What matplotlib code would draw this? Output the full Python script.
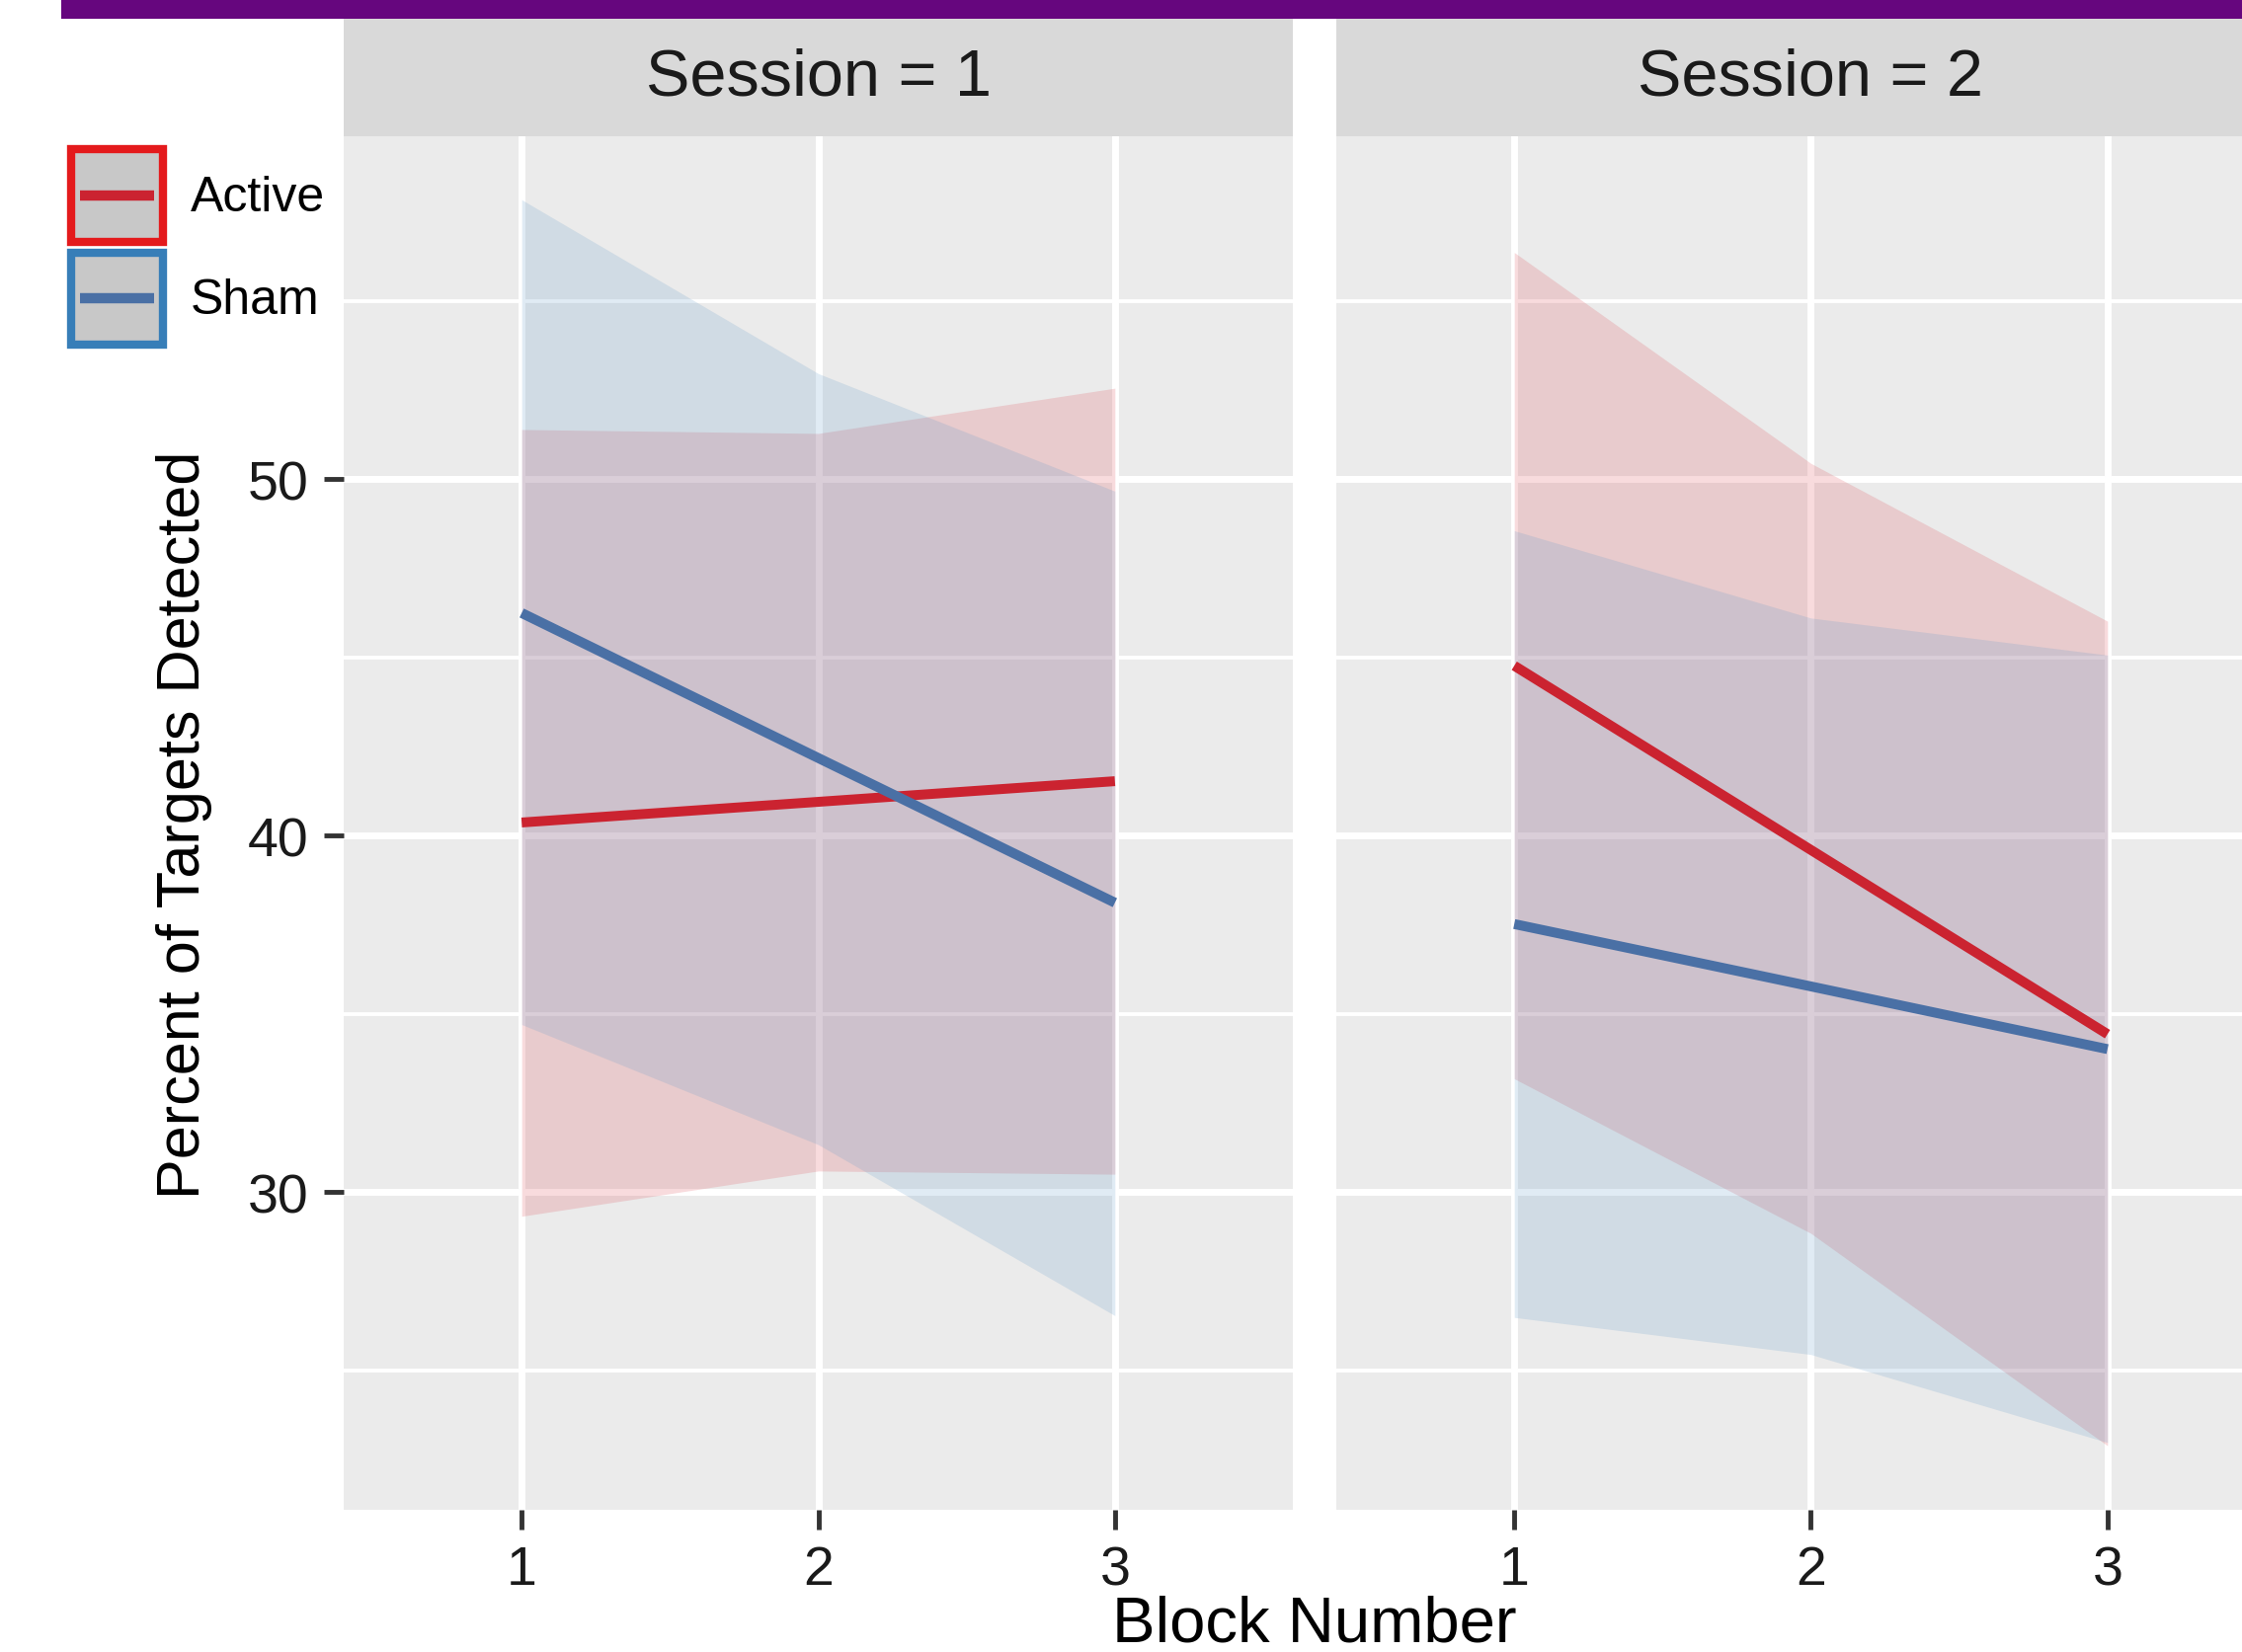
import matplotlib.pyplot as plt
from matplotlib.patches import Patch, Rectangle
from matplotlib.lines import Line2D

plt.rcParams['font.family'] = ['Liberation Sans', 'DejaVu Sans']

# data
blocks = [1, 2, 3]
session_titles = ['Session = 1', 'Session = 2']
groups = ['Active', 'Sham']

# Session 1
active_s1 = [40.37, 40.95, 41.53]
active_s1_lo = [29.32, 30.59, 30.50]
active_s1_hi = [51.40, 51.29, 52.56]
sham_s1 = [46.25, 42.18, 38.12]
sham_s1_lo = [34.70, 31.33, 26.53]
sham_s1_hi = [57.85, 52.97, 49.67]

# Session 2
active_s2 = [44.77, 39.60, 34.43]
active_s2_lo = [33.18, 28.84, 22.88]
active_s2_hi = [56.37, 50.45, 46.02]
sham_s2 = [37.52, 35.77, 34.01]
sham_s2_lo = [26.48, 25.44, 22.97]
sham_s2_hi = [48.56, 46.11, 45.07]

panels = [
    {'Active': (active_s1, active_s1_lo, active_s1_hi), 'Sham': (sham_s1, sham_s1_lo, sham_s1_hi)},
    {'Active': (active_s2, active_s2_lo, active_s2_hi), 'Sham': (sham_s2, sham_s2_lo, sham_s2_hi)},
]

line_colors = {'Active': '#CB2330', 'Sham': '#4A70A5'}
ribbon_colors = {'Active': '#DC4B55', 'Sham': '#649BC8'}
border_colors = {'Active': '#E41A1C', 'Sham': '#377EB8'}


class KeyHandler:
    """ggplot-like legend key: grey box with coloured border and a line across."""
    def legend_artist(self, legend, orig_handle, fontsize, handlebox):
        x0, y0 = -handlebox.xdescent, -handlebox.ydescent
        w, h = handlebox.width, handlebox.height
        edge = orig_handle.get_edgecolor()
        rect = Rectangle((x0, y0), w, h, facecolor='#C8C8C8', edgecolor=edge, lw=6,
                         transform=handlebox.get_transform())
        inset = 0.1 * w
        line = Line2D([x0 + inset, x0 + w - inset], [y0 + h / 2] * 2,
                      color=orig_handle.get_facecolor(), lw=7.5, solid_capstyle='butt',
                      transform=handlebox.get_transform())
        handlebox.add_artist(rect)
        handlebox.add_artist(line)
        return rect


W, H = 2270, 1674
fig = plt.figure(figsize=(W / 100, H / 100), dpi=100)
fig.patch.set_facecolor('white')

# purple banner along the top
fig.patches.append(Rectangle((62 / W, 1 - 20 / H), 1.0, 20 / H, transform=fig.transFigure,
                             facecolor='#66067E', edgecolor='none', zorder=5))

ax_w = 961 / W
ax_b = 1 - 1530 / H
ax_h = (1530 - 139) / H
lefts = [348 / W, 1353 / W]

for i, (left, data, title) in enumerate(zip(lefts, panels, session_titles)):
    ax = fig.add_axes([left, ax_b, ax_w, ax_h])
    ax.set_facecolor('#EBEBEB')
    for s in ax.spines.values():
        s.set_visible(False)
    ax.set_axisbelow(True)
    ax.set_xlim(0.4, 3.6)
    ax.set_ylim(21.08, 59.63)
    ax.set_xticks(blocks)
    ax.set_xticklabels([str(b) for b in blocks])
    ax.set_yticks([30, 40, 50])
    ax.set_yticks([25, 35, 45, 55], minor=True)
    ax.grid(which='major', color='white', lw=5)
    ax.grid(which='minor', axis='y', color='white', lw=2.8)
    ax.tick_params(which='minor', length=0)
    ax.tick_params(which='major', length=14.5, width=3.5, color='#333333',
                   labelsize=40, labelcolor='#1A1A1A', pad=11)
    if i > 0:
        ax.tick_params(axis='y', which='major', length=0, labelleft=False)

    for g in groups:
        mid, lo, hi = data[g]
        ax.fill_between(blocks, lo, hi, color=ribbon_colors[g], alpha=0.2, lw=0, zorder=2)
    for g in groups:
        mid, lo, hi = data[g]
        ax.plot(blocks, mid, color=line_colors[g], lw=7.2, solid_capstyle='butt', zorder=3)

    # facet strip
    sax = fig.add_axes([left, 1 - 139 / H, ax_w, 119 / H])
    sax.set_facecolor('#D9D9D9')
    sax.set_xticks([])
    sax.set_yticks([])
    for s in sax.spines.values():
        s.set_visible(False)
    sax.text(0.5, 0.5, title, transform=sax.transAxes, ha='center', va='center',
             fontsize=48, color='#1A1A1A')

fig.text(187 / W, 1 - 835 / H, 'Percent of Targets Detected', rotation=90,
         ha='center', va='center', fontsize=44, color='black')
fig.text(1331 / W, 1 - 1663 / H, 'Block Number', ha='center', va='baseline',
         fontsize=47, color='black')

handles = [Patch(facecolor=line_colors[g], edgecolor=border_colors[g]) for g in groups]
fig.legend(handles=handles, labels=groups, handler_map={Patch: KeyHandler()},
           loc='upper left', bbox_to_anchor=(72 / W, 1 - 152 / H), frameon=False,
           fontsize=36, handlelength=1.86, handleheight=2.5, labelspacing=0.22,
           handletextpad=0.55, borderpad=0, borderaxespad=0)

fig.savefig('out.png', dpi=100)
